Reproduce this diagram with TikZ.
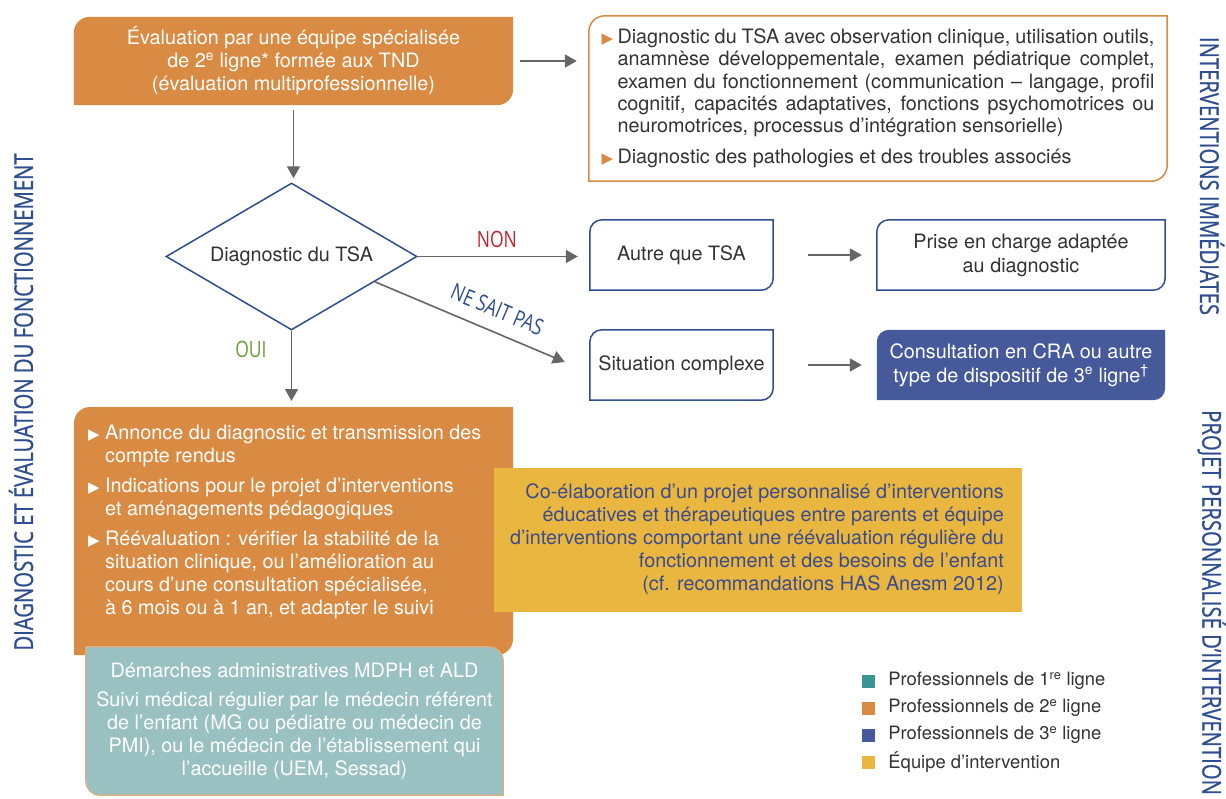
\documentclass[tikz,border=0pt]{standalone}
\usepackage{fontspec}
\setmainfont{TeX Gyre Heros}
\newfontfamily\condf[FakeStretch=0.78]{Open Sans}
\newfontfamily\condb[FakeStretch=0.78,FakeBold=0.8]{Open Sans}
\newfontfamily\dejavu{DejaVu Sans}
\usetikzlibrary{shapes.geometric,arrows.meta,backgrounds,calc}
\definecolor{orng}{HTML}{D98A43}
\definecolor{blu}{HTML}{2E4E8F}
\definecolor{bluf}{HTML}{46599B}
\definecolor{yel}{HTML}{E9B640}
\definecolor{tealf}{HTML}{99C1C2}
\definecolor{tealL}{HTML}{3A9494}
\definecolor{arrgray}{HTML}{666666}
\definecolor{txt}{HTML}{333333}
\definecolor{nonred}{HTML}{C8232C}
\definecolor{ouigreen}{HTML}{6A9F3A}
\definecolor{yeltxt}{HTML}{3B4C8E}
\newcommand\bulmark[1]{\makebox[#1][l]{{\dejavu\fontsize{15}{15}\selectfont ▶}}}
\newcommand\tlbrbox[4]{%
  \path[#1] let \p1=#2, \p2=#3 in (\x1,\y2) -- (\x1,\y1-#4)
    arc[start angle=180,end angle=90,radius=#4] -- (\x2,\y1) -- (\x2,\y2+#4)
    arc[start angle=0,end angle=-90,radius=#4] -- cycle;}
\newcommand\trblbox[4]{%
  \path[#1] let \p1=#2, \p2=#3 in (\x1,\y1) -- (\x2-#4,\y1)
    arc[start angle=90,end angle=0,radius=#4] -- (\x2,\y2) -- (\x1+#4,\y2)
    arc[start angle=270,end angle=180,radius=#4] -- cycle;}
\tikzset{
  body/.style={font=\fontsize{19.8}{22.3}\selectfont},
  arr/.style={draw=arrgray, line width=1.8pt, -{Triangle[length=12pt,width=13pt]}},
  side/.style={font=\condb\fontsize{26}{26}\selectfont, text=blu, inner sep=0},
  cond/.style={font=\condf\fontsize{22.5}{22.5}\selectfont, inner sep=0},
  smallbox/.style={body, text=txt, minimum width=183, minimum height=70, inner sep=0, align=center},
  bigbox/.style={body, font=\fontsize{19.8}{24}\selectfont, text=txt, minimum width=288, minimum height=70, inner sep=0, align=center},
  legsq/.style={minimum size=13, inner sep=0},
  legtx/.style={font=\fontsize{18.4}{18.4}\selectfont, text=txt, inner sep=0, anchor=west},
}
\begin{document}
\begin{tikzpicture}[x=1pt,y=1pt]
\useasboundingbox (0,0) rectangle (1226,-798);

% top evaluation box
\node[body, font=\fontsize{19.8}{23}\selectfont, text=white, align=center, minimum width=439, minimum height=88, inner sep=0] (eval) at (293.5,-61)
  {Évaluation par une équipe spécialisée\\de 2\textsuperscript{e} ligne* formée aux TND\\(évaluation multiprofessionnelle)};

% top right description box
\node[body, text=txt, align=left, minimum width=578, minimum height=165, inner sep=0] (diagbox) at (878,-98.5)
  {{\color{orng}\bulmark{16pt}}\makebox[537pt][s]{Diagnostic du TSA avec observation clinique, utilisation outils,}\\
   \hspace*{16pt}\makebox[537pt][s]{anamnèse développementale, examen pédiatrique complet,}\\
   \hspace*{16pt}\makebox[537pt][s]{examen du fonctionnement (communication – langage, profil}\\
   \hspace*{16pt}\makebox[537pt][s]{cognitif, capacités adaptatives, fonctions psychomotrices ou}\\
   \hspace*{16pt}neuromotrices, processus d’intégration sensorielle)\\[9pt]
   {\color{orng}\bulmark{16pt}}Diagnostic des pathologies et des troubles associés};

% diamond
\node[diamond, draw=blu, line width=1.5pt, minimum width=251, minimum height=147, inner sep=0, aspect=1.7, body, text=txt] (dia) at (291.5,-256.5) {Diagnostic du TSA};

% right boxes
\node[smallbox] (autre) at (681.5,-255) {Autre que TSA};
\node[bigbox] (prise) at (1021,-255) {Prise en charge adaptée\\au diagnostic};
\node[smallbox] (situ) at (681.5,-365) {Situation complexe};
\node[bigbox, text=white] (cra) at (1021,-365) {Consultation en CRA ou autre\\type de dispositif de 3\textsuperscript{e} ligne\textsuperscript{†}};

% big orange box content
\coordinate (bigNW) at (74,-407);
\coordinate (bigSE) at (513,-655);
\node[body, font=\fontsize{19.8}{23}\selectfont, text=white, align=left, inner sep=0, anchor=north west] (annonce) at (88,-425)
  {\bulmark{17pt}Annonce du diagnostic et transmission des\\
   \hspace*{17pt}compte rendus\\[7pt]
   \bulmark{17pt}Indications pour le projet d’interventions\\
   \hspace*{17pt}et aménagements pédagogiques\\[7pt]
   \bulmark{17pt}Réévaluation : vérifier la stabilité de la\\
   \hspace*{17pt}situation clinique, ou l’amélioration au\\
   \hspace*{17pt}cours d’une consultation spécialisée,\\
   \hspace*{17pt}à 6 mois ou à 1 an, et adapter le suivi};

% yellow box
\coordinate (yelNW) at (494,-468);
\coordinate (yelSE) at (1022,-612);
\node[body, font=\fontsize{19.8}{23}\selectfont, text=yeltxt, align=right, inner sep=0, anchor=east] (coel) at (1004,-539)
  {Co-élaboration d’un projet personnalisé d’interventions\\
   éducatives et thérapeutiques entre parents et équipe\\
   d’interventions comportant une réévaluation régulière du\\
   fonctionnement et des besoins de l’enfant\\
   (cf. recommandations HAS Anesm 2012)};

% teal box
\node[body, font=\fontsize{19.8}{23}\selectfont, text=white, align=center, minimum width=417, minimum height=148, inner sep=0] (suivi) at (294.5,-721)
  {Démarches administratives MDPH et ALD\\[6pt]
   Suivi médical régulier par le médecin référent\\
   de l’enfant (MG ou pédiatre ou médecin de\\
   PMI), ou le médecin de l’établissement qui\\
   l’accueille (UEM, Sessad)};

% backgrounds
\begin{scope}[on background layer]
  \fill[white] (0,0) rectangle (1226,-798);
  \tlbrbox{fill=orng}{(eval.north west)}{(eval.south east)}{16pt}
  \tlbrbox{draw=orng, line width=1.5pt, fill=white}{(diagbox.north west)}{(diagbox.south east)}{16pt}
  \tlbrbox{draw=blu, line width=1.5pt, fill=white}{(autre.north west)}{(autre.south east)}{12pt}
  \tlbrbox{draw=blu, line width=1.5pt, fill=white}{(prise.north west)}{(prise.south east)}{12pt}
  \tlbrbox{draw=blu, line width=1.5pt, fill=white}{(situ.north west)}{(situ.south east)}{12pt}
  \tlbrbox{fill=bluf}{(cra.north west)}{(cra.south east)}{12pt}
  \tlbrbox{fill=orng}{(bigNW)}{(bigSE)}{16pt}
  \fill[yel] (yelNW) rectangle (yelSE);
  \trblbox{fill=tealf, draw=orng!70, line width=1.2pt}{(suivi.north west)}{(suivi.south east)}{14pt}
\end{scope}

% connectors
\draw[arr, shorten <=7pt, shorten >=12pt] (eval.east) -- (eval.east -| diagbox.west);
\draw[arr, shorten <=5pt, shorten >=4pt] (eval.south) -- (eval.south |- dia.north);
\draw[arr, line width=1.6pt, shorten >=12pt] (dia.east) -- (dia.east -| autre.west)
  node[pos=0.46, above=8pt, cond, text=nonred] {NON};
\coordinate (nsp) at ($(dia.east)!0.34!(dia.south)$);
\coordinate (nspend) at ([xshift=-25pt,yshift=3pt]situ.west);
\draw[arr, line width=1.6pt] (nsp) -- (nspend)
  node[pos=0.6, sloped, above=13pt, cond, text=blu] {NE SAIT PAS};
\draw[arr, shorten >=6pt] (dia.south) -- (dia.south |- bigNW)
  node[pos=0.25, left=24pt, cond, text=ouigreen] {OUI};
\draw[arr, shorten <=35pt, shorten >=15pt] (autre.east) -- (prise.west);
\draw[arr, shorten <=35pt, shorten >=15pt] (situ.east) -- (cra.west);

% legend
\node[legsq, fill=tealL] (lg1) at (868.5,-681) {};
\node[legsq, fill=orng] (lg2) at (868.5,-708) {};
\node[legsq, fill=bluf] (lg3) at (868.5,-735) {};
\node[legsq, fill=yel] (lg4) at (868.5,-762) {};
\node[legtx] (lt1) at ([xshift=13pt]lg1.east) {Professionnels de 1\textsuperscript{re} ligne};
\node[legtx] (lt2) at ([xshift=13pt]lg2.east) {Professionnels de 2\textsuperscript{e} ligne};
\node[legtx] (lt3) at ([xshift=13pt]lg3.east) {Professionnels de 3\textsuperscript{e} ligne};
\node[legtx] (lt4) at ([xshift=13pt]lg4.east) {Équipe d’intervention};

% side labels
\node[side, rotate=90] (sideL) at (21,-402) {DIAGNOSTIC ET ÉVALUATION DU FONCTIONNEMENT};
\node[side, rotate=-90] (sideR1) at (1212,-176) {INTERVENTIONS IMMÉDIATES};
\node[side, rotate=-90, anchor=west] (sideR2) at (1212,-410) {PROJET PERSONNALISÉ D’INTERVENTION};
\end{tikzpicture}
\end{document}
